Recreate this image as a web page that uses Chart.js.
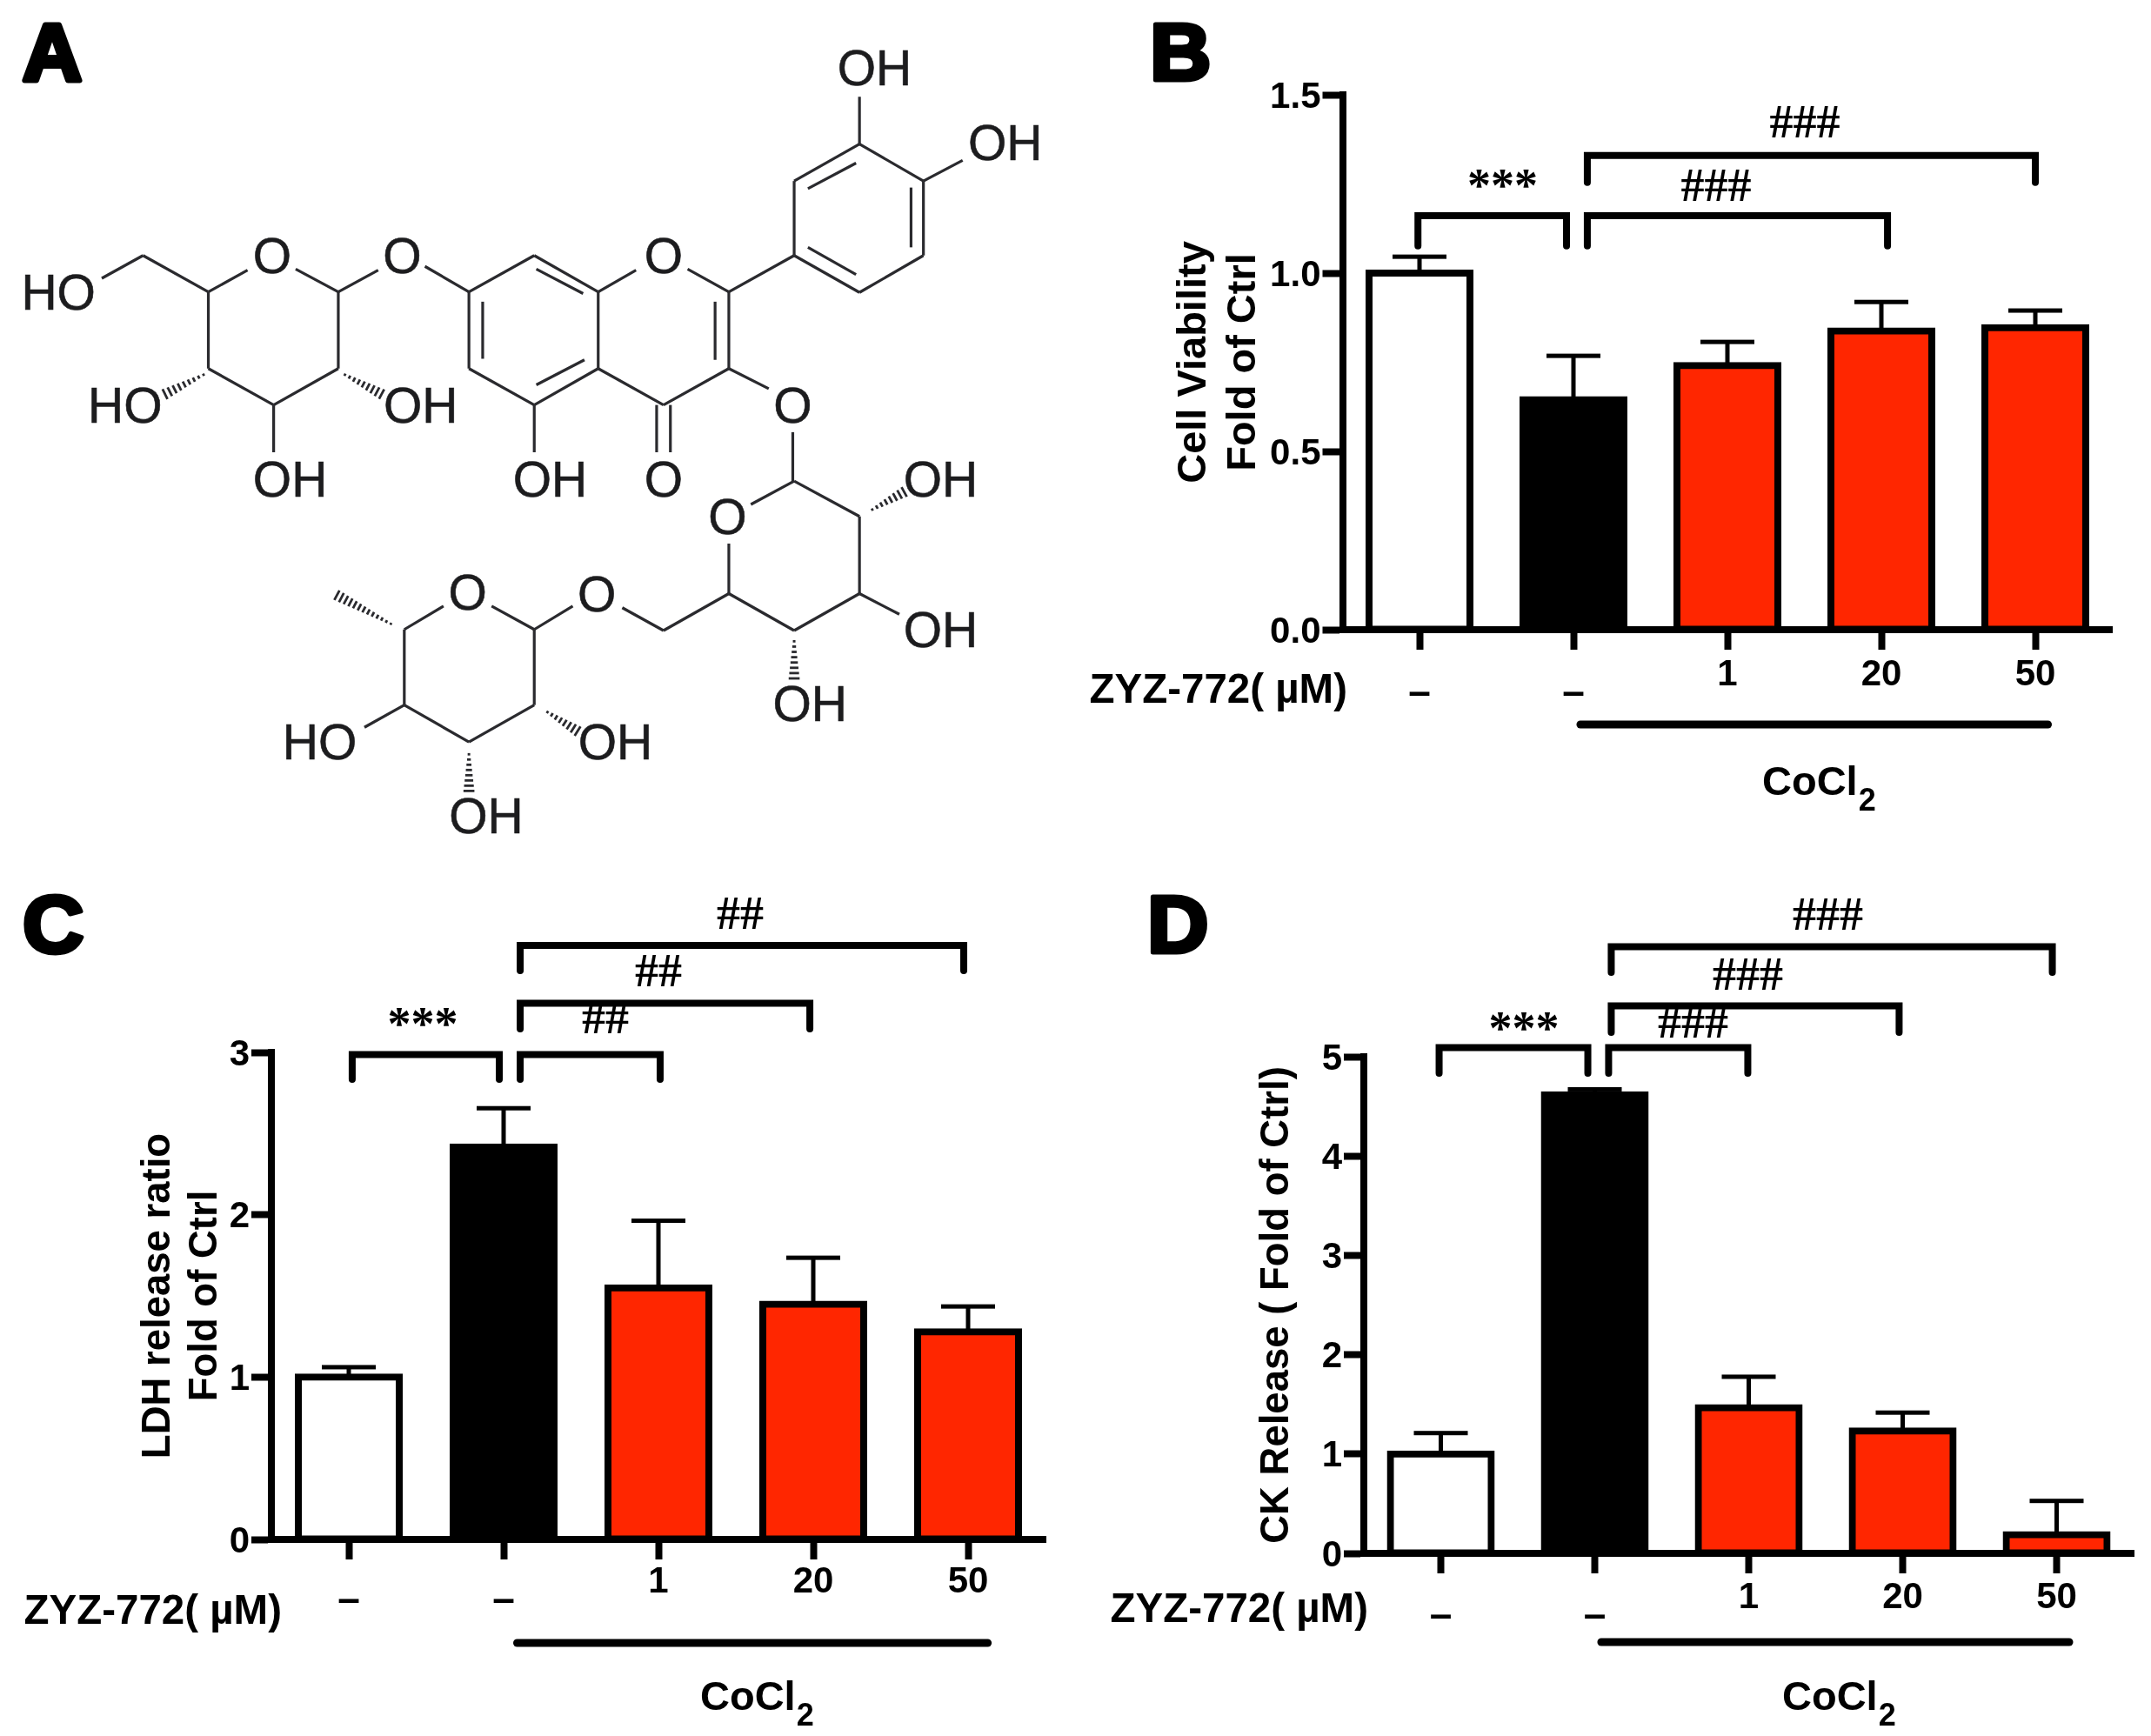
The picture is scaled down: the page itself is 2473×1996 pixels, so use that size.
<!DOCTYPE html>
<html>
<head>
<meta charset="utf-8">
<script src="https://cdn.jsdelivr.net/npm/chart.js@4"></script>
<style>
html,body{margin:0;padding:0;background:#fff;}
#page{position:relative;width:2473px;height:1996px;overflow:hidden;background:#fff;}
canvas,svg{position:absolute;display:block;}
</style>
</head>
<body>
<div id="page">
<svg id="mol" width="1240" height="990" style="left:0;top:0"></svg>
<canvas id="cB" width="1233" height="990" style="left:1240px;top:0"></canvas>
<canvas id="cC" width="1240" height="1006" style="left:0;top:990px"></canvas>
<canvas id="cD" width="1233" height="1006" style="left:1240px;top:990px"></canvas>
</div>
<script>
// ---- data ----
const categories = ['–', '–', '1', '20', '50'];
const barColors = ['#ffffff', '#000000', '#ff2600', '#ff2600', '#ff2600'];

const viabilityMeans = [1.0, 0.645, 0.741, 0.838, 0.847];
const viabilityErrTops = [1.046, 0.768, 0.807, 0.919, 0.895];
const viabilityTicks = ['0.0', '0.5', '1.0', '1.5'];

const ldhMeans = [1.0, 2.418, 1.55, 1.449, 1.279];
const ldhErrTops = [1.061, 2.656, 1.963, 1.735, 1.435];
const ldhTicks = ['0', '1', '2', '3'];

const ckMeans = [1.0, 4.617, 1.467, 1.233, 0.189];
const ckErrTops = [1.211, 4.672, 1.778, 1.417, 0.528];
const ckTicks = ['0', '1', '2', '3', '4', '5'];

// significance brackets: [from category, to category, top value, foot value]
const viabilityBrackets = [[-0.01, 0.955, 1.161, 1.076], [1.09, 3.04, 1.161, 1.076], [1.09, 4.0, 1.33, 1.254]];
const viabilityMarks = [['***', 0.54, 1.243], ['###', 1.927, 1.244], ['###', 2.503, 1.422]];
const ldhBrackets = [[0.022, 0.972, 2.987, 2.834], [1.107, 2.011, 2.987, 2.834], [1.107, 2.978, 3.303, 3.145], [1.107, 3.972, 3.659, 3.504]];
const ldhMarks = [['***', 0.478, 3.171], ['##', 1.657, 3.209], ['##', 2.0, 3.498], ['##', 2.528, 3.852]];
const ckBrackets = [[-0.011, 0.955, 5.092, 4.834], [1.09, 1.994, 5.092, 4.834], [1.107, 2.977, 5.512, 5.245], [1.107, 3.972, 6.108, 5.849]];
const ckMarks = [['***', 0.54, 5.28], ['###', 1.638, 5.342], ['###', 1.994, 5.823], ['###', 2.514, 6.427]];

const SANS = '"Liberation Sans", Arial, sans-serif';
const SERIF = '"Liberation Serif", "Times New Roman", serif';

// ---- annotation plugin shared by the three bar panels ----
function panelPlugin(p) {
  return {
    id: 'panel' + p.letter,
    beforeDatasetsDraw(chart) {
      const ctx = chart.ctx, x = chart.scales.x, y = chart.scales.y;
      ctx.save();
      ctx.fillStyle = '#000';
      p.means.forEach((m, i) => {
        const cx = x.getPixelForValue(i), top = y.getPixelForValue(p.errTops[i]), base = y.getPixelForValue(m);
        ctx.fillRect(cx - 2.5, top, 5, base - top);
        ctx.fillRect(cx - 31, top - 2.5, 62, 5);
      });
      ctx.restore();
    },
    afterDraw(chart) {
      const ctx = chart.ctx, x = chart.scales.x, y = chart.scales.y;
      ctx.save();
      ctx.strokeStyle = '#000';
      ctx.fillStyle = '#000';
      ctx.lineWidth = 8;
      ctx.lineCap = 'round';
      ctx.lineJoin = 'miter';
      p.brackets.forEach(b => {
        const x0 = x.getPixelForValue(b[0]), x1 = x.getPixelForValue(b[1]);
        const t = y.getPixelForValue(b[2]), f = y.getPixelForValue(b[3]);
        ctx.beginPath();
        ctx.moveTo(x0, f); ctx.lineTo(x0, t); ctx.lineTo(x1, t); ctx.lineTo(x1, f);
        ctx.stroke();
      });
      ctx.textAlign = 'center';
      ctx.textBaseline = 'middle';
      ctx.font = 'bold 54px ' + SERIF;
      p.marks.forEach(m => ctx.fillText(m[0], x.getPixelForValue(m[1]), y.getPixelForValue(m[2]) + 3));

      const axisY = y.getPixelForValue(0);
      // treatment line under the axis
      ctx.beginPath();
      ctx.lineWidth = 9;
      ctx.moveTo(x.getPixelForValue(p.lineFrom), axisY + p.lineDrop);
      ctx.lineTo(x.getPixelForValue(p.lineTo), axisY + p.lineDrop);
      ctx.stroke();

      // dose label
      ctx.textAlign = 'right';
      ctx.font = 'bold 47.5px ' + SANS;
      ctx.fillText('ZYZ-772( µM)', p.doseRight, axisY + p.doseDrop);

      // CoCl2 with subscript
      ctx.textAlign = 'left';
      ctx.textBaseline = 'alphabetic';
      ctx.font = 'bold 47px ' + SANS;
      const cw = ctx.measureText('CoCl').width;
      ctx.fillText('CoCl', p.cocl, axisY + p.coclDrop);
      ctx.font = 'bold 36px ' + SANS;
      ctx.fillText('2', p.cocl + cw + 1, axisY + p.coclDrop + 18);

      // panel letter
      ctx.translate(p.letterX, p.letterY);
      ctx.scale(1.06, 1);
      ctx.font = 'bold 92px ' + SANS;
      ctx.lineWidth = 5;
      ctx.lineJoin = 'round';
      ctx.strokeText(p.letter, 0, 0);
      ctx.fillText(p.letter, 0, 0);
      ctx.restore();
    }
  };
}

function makePanel(id, p) {
  return new Chart(document.getElementById(id), {
    type: 'bar',
    data: {
      labels: categories,
      datasets: [{
        data: p.means,
        backgroundColor: barColors,
        borderColor: '#000',
        borderWidth: 8,
        inflateAmount: 4,
        borderSkipped: false,
        barThickness: 116,
        clip: false
      }]
    },
    plugins: [panelPlugin(p)],
    options: {
      responsive: false,
      animation: false,
      devicePixelRatio: 1,
      layout: { padding: { left: p.padLeft, right: p.padRight, top: p.padTop, bottom: 0 } },
      plugins: { legend: { display: false }, tooltip: { enabled: false }, title: { display: false } },
      scales: {
        x: {
          type: 'category',
          offset: true,
          afterFit(s) { s.height = p.xHeight; },
          grid: { display: true, drawOnChartArea: false, drawTicks: true, tickLength: 23, tickWidth: 8, tickColor: '#000', color: '#000', offset: false },
          border: { display: true, width: 8, color: '#000' },
          ticks: {
            autoSkip: false, maxRotation: 0, minRotation: 0, color: '#000', padding: p.xPad,
            font: ctx => (ctx.index < 2
              ? { family: SANS, weight: 'bold', size: 46, lineHeight: 0.61 }
              : { family: SANS, weight: 'bold', size: 42, lineHeight: 1 }),
            callback(v) { const l = categories[v]; return l === '–' ? ['', l] : l; }
          }
        },
        y: {
          min: 0, max: p.max,
          afterFit(s) { s.width = p.yWidth; },
          afterBuildTicks(s) { s.ticks = p.ticks.map(t => ({ value: parseFloat(t) })); },
          grid: { display: true, drawOnChartArea: false, drawTicks: true, tickLength: 23, tickWidth: 8, tickColor: '#000', color: '#000' },
          border: { display: true, width: 8, color: '#000' },
          ticks: {
            color: '#000', padding: 2,
            font: { family: SANS, weight: 'bold', size: 42, lineHeight: '6px' },
            callback(v, i) { return ['', p.ticks[i]]; }
          },
          title: {
            display: true, text: p.title, color: '#000', padding: 0,
            font: { family: SANS, weight: 'bold', size: p.titleSize, lineHeight: p.titleLine }
          }
        }
      }
    }
  });
}

makePanel('cB', {
  letter: 'B', letterX: 82, letterY: 92,
  means: viabilityMeans, errTops: viabilityErrTops, ticks: viabilityTicks, brackets: viabilityBrackets, marks: viabilityMarks,
  max: 1.5, title: ['Cell Viability', 'Fold of Ctrl'], titleSize: 47, titleLine: 1.2,
  padLeft: 105, padRight: 44.5, padTop: 109, yWidth: 198.5, xHeight: 266, xPad: 8,
  lineFrom: 1.045, lineTo: 4.082, lineDrop: 109, doseRight: 309, doseDrop: 71, cocl: 786, coclDrop: 190
});
makePanel('cC', {
  letter: 'C', letterX: 26, letterY: 105,
  means: ldhMeans, errTops: ldhErrTops, ticks: ldhTicks, brackets: ldhBrackets, marks: ldhMarks,
  max: 3, title: ['LDH release ratio', 'Fold of Ctrl'], titleSize: 45.5, titleLine: 1.2,
  padLeft: 155, padRight: 38, padTop: 220, yWidth: 157, xHeight: 226, xPad: 5,
  lineFrom: 1.087, lineTo: 4.127, lineDrop: 119, doseRight: 324, doseDrop: 84, cocl: 805, coclDrop: 196
});
makePanel('cD', {
  letter: 'D', letterX: 79, letterY: 105,
  means: ckMeans, errTops: ckErrTops, ticks: ckTicks, brackets: ckBrackets, marks: ckMarks,
  max: 5, title: 'CK Release ( Fold of Ctrl)', titleSize: 45.5, titleLine: 1.2,
  padLeft: 201, padRight: 20, padTop: 225, yWidth: 127, xHeight: 210, xPad: 7,
  lineFrom: 1.042, lineTo: 4.082, lineDrop: 102, doseRight: 333, doseDrop: 66, cocl: 809, coclDrop: 180
});

// ---- panel A: chemical structure (drawing, not data) ----
const molBonds = [
 [430,495,492,537],[303,537,360,497],[303,537,303,678],[303,678,398,745],[398,745,492,678],[492,678,492,537],
 [208,470,303,537],[148,512,208,470],[398,745,398,832],[492,537,550,497],[618,490,682,537],
 [682,537,777,470],[780,495,848,540],[777,470,870,537],[870,537,870,678],[870,678,777,745],[850,662,780,708],
 [777,745,682,678],[682,678,682,537],[702,555,702,660],
 [870,537,925,497],[1000,495,1060,537],[1060,537,1060,678],[1040,555,1040,662],[1060,678,965,745],[965,745,870,678],
 [955,745,955,832],[975,745,975,832],[777,745,777,832],[1060,678,1118,715],[1153,795,1153,885],
 [1060,537,1155,470],[1155,470,1155,333],[1155,333,1250,265],[1250,265,1343,333],[1343,333,1343,470],[1343,470,1250,538],[1250,538,1155,470],
 [1175,347,1245,300],[1325,345,1325,455],[1175,455,1245,505],[1250,265,1250,178],[1343,333,1400,295],
 [1155,885,1092,928],[1155,885,1250,950],[1250,950,1250,1092],[1250,1092,1155,1160],[1155,1160,1060,1092],[1060,1092,1060,1000],
 [1250,1092,1308,1130],[1060,1092,965,1160],[965,1160,905,1118],[833,1115,777,1158],
 [777,1158,715,1115],[588,1158,645,1115],[588,1158,588,1297],[588,1297,682,1365],[682,1365,777,1297],[777,1297,777,1158],
 [588,1297,530,1338]
];
const molHashes = [
 [303,685,240,725],[495,685,555,725],[1262,942,1315,905],[1155,1170,1155,1248],[575,1152,490,1095],[790,1305,840,1345],[682,1378,682,1455]
];
const molLabels = [
 ['OH',1272,125],['OH',1462,262],['O',396,470],['O',585,470],['O',965,470],['HO',85,538],
 ['HO',182,745],['OH',612,745],['O',1153,745],['OH',422,882],['OH',800,882],['O',965,882],['OH',1368,882],
 ['O',1058,950],['O',680,1090],['O',868,1092],['OH',1368,1158],['OH',1178,1295],['HO',465,1365],['OH',895,1365],['OH',707,1500]
];
(function drawMolecule() {
  const NS = 'http://www.w3.org/2000/svg', svg = document.getElementById('mol');
  const sx = 1 / 1.265, sy = 1 / 1.6, ink = '#2a2a2e';
  function line(a, b, c, d, w) {
    const l = document.createElementNS(NS, 'line');
    l.setAttribute('x1', a); l.setAttribute('y1', b); l.setAttribute('x2', c); l.setAttribute('y2', d);
    l.setAttribute('stroke', ink); l.setAttribute('stroke-width', w);
    svg.appendChild(l);
  }
  molBonds.forEach(b => line(b[0] * sx, b[1] * sy, b[2] * sx, b[3] * sy, 3.2));
  molHashes.forEach(h => {
    const x0 = h[0] * sx, y0 = h[1] * sy, x1 = h[2] * sx, y1 = h[3] * sy;
    const dx = x1 - x0, dy = y1 - y0, len = Math.hypot(dx, dy), nx = -dy / len, ny = dx / len;
    const n = Math.round(len / 6);
    for (let i = 1; i <= n; i++) {
      const t = i / n, hw = 0.8 + t * 5.5, px = x0 + dx * t, py = y0 + dy * t;
      line(px - nx * hw, py - ny * hw, px + nx * hw, py + ny * hw, 2.8);
    }
  });
  molLabels.forEach(m => {
    const t = document.createElementNS(NS, 'text');
    t.textContent = m[0];
    t.setAttribute('x', m[1] * sx); t.setAttribute('y', m[2] * sy + 20);
    t.setAttribute('text-anchor', 'middle');
    t.setAttribute('font-family', SANS); t.setAttribute('font-size', '57');
    t.setAttribute('fill', '#1c1c1e');
    t.setAttribute('stroke', '#1c1c1e'); t.setAttribute('stroke-width', '0.6');
    svg.appendChild(t);
  });
  const a = document.createElementNS(NS, 'text');
  a.textContent = 'A';
  a.setAttribute('x', 26); a.setAttribute('y', 92);
  a.setAttribute('font-family', SANS); a.setAttribute('font-weight', 'bold'); a.setAttribute('font-size', '92');
  a.setAttribute('textLength', '68'); a.setAttribute('lengthAdjust', 'spacingAndGlyphs');
  a.setAttribute('stroke', '#000'); a.setAttribute('stroke-width', '6'); a.setAttribute('stroke-linejoin', 'round');
  svg.appendChild(a);
})();
</script>
</body>
</html>
